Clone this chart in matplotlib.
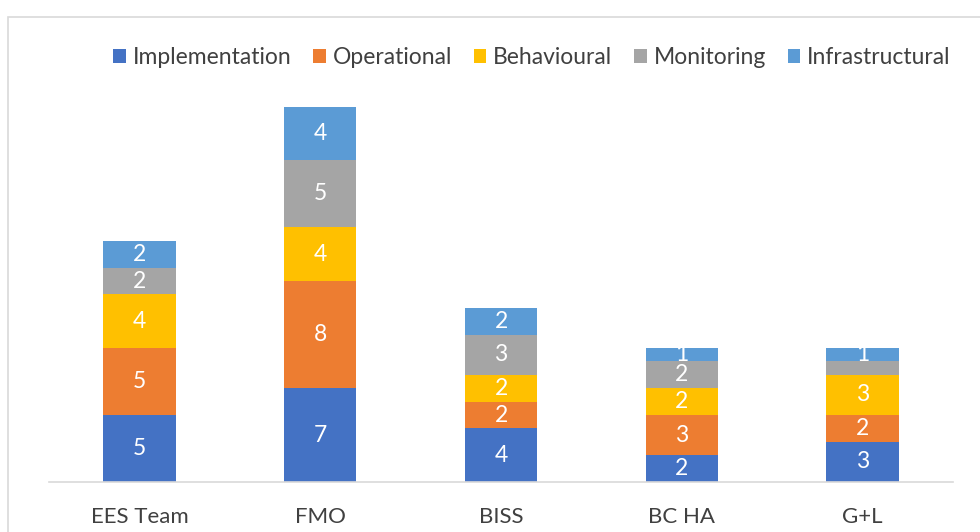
import matplotlib
matplotlib.use('Agg')
import matplotlib.pyplot as plt
from matplotlib.patches import Rectangle
import numpy as np

plt.rcParams['font.family'] = ['Lato', 'DejaVu Sans']

categories = ['EES Team', 'FMO', 'BISS', 'BC HA', 'G+L']
series = ['Implementation', 'Operational', 'Behavioural', 'Monitoring', 'Infrastructural']
values = {
    'Implementation':  [5, 7, 4, 2, 3],
    'Operational':     [5, 8, 2, 3, 2],
    'Behavioural':     [4, 4, 2, 2, 3],
    'Monitoring':      [2, 5, 3, 2, 1],
    'Infrastructural': [2, 4, 2, 1, 1],
}
# the grey G+L segment has no label in the original
hide_label = {('Monitoring', 'G+L')}
colors = ['#4472C4', '#ED7D31', '#FFC000', '#A5A5A5', '#5B9BD5']

fig = plt.figure(figsize=(9.8, 5.32), dpi=100)
fig.patches.append(Rectangle((8/980, -0.1), 1.1, (532-17)/532 + 0.1, transform=fig.transFigure,
                             fill=False, edgecolor='#d9d9d9', lw=1.2))
ax = fig.add_axes([49/980, 1 - 482/532, (953-49)/980, (482-80)/532])

x = np.arange(len(categories))
bottom = np.zeros(len(categories))
for name, c in zip(series, colors):
    v = np.array(values[name])
    bars = ax.bar(x, v, 0.4, bottom=bottom, color=c, label=name, zorder=2)
    for i, b in enumerate(bars):
        if (name, categories[i]) in hide_label:
            continue
        ax.text(b.get_x() + b.get_width()/2, bottom[i] + v[i]/2, str(v[i]),
                ha='center', va='center', color='white', fontsize=16.5)
    bottom += v

ax.set_xlim(-0.5, 4.5)
ax.set_ylim(0, 30)
ax.set_xticks(x)
ax.set_xticklabels(categories, fontsize=16, color='#404040')
ax.tick_params(axis='x', length=0, pad=18)
ax.set_yticks([])
for s in ['top', 'right', 'left']:
    ax.spines[s].set_visible(False)
ax.spines['bottom'].set_color('#d9d9d9')
ax.spines['bottom'].set_linewidth(1.2)

fig.legend(loc='center', bbox_to_anchor=(532/980, 1 - 58/532), ncol=5, frameon=False,
           fontsize=16.5, handlelength=0.55, handleheight=0.55, handletextpad=0.3,
           columnspacing=0.95, labelcolor='#404040')

fig.savefig('out.png', dpi=100)
